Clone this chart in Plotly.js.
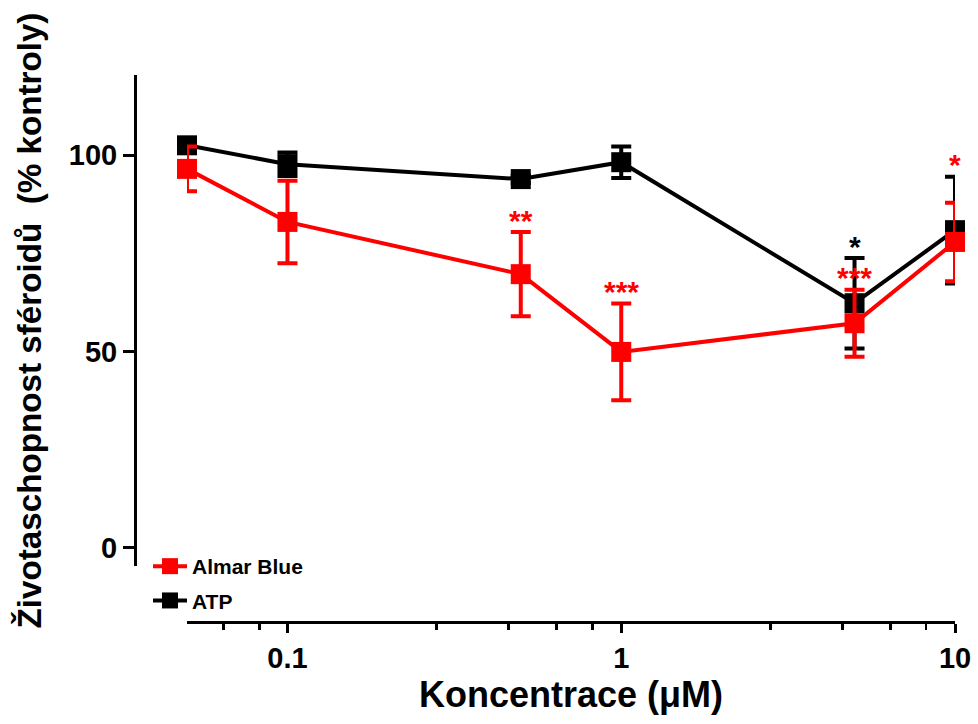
<!DOCTYPE html>
<html><head><meta charset="utf-8">
<script src="https://cdn.plot.ly/plotly-3.0.1.min.js"></script>
<style>html,body{margin:0;padding:0;background:#fff}</style>
</head><body><div id="chart" style="width:978px;height:724px"></div>
<script>
// ---- data ----
const concentrations = [0.05, 0.1, 0.5, 1, 5, 10];
const almarBlue    = [96.5, 83.0, 69.7, 49.9, 57.2, 77.9];
const almarBlueErr = [5.7, 10.5, 10.7, 12.3, 8.5, 10.0];
const atp          = [102.5, 97.7, 93.9, 98.2, 62.3, 80.9];
const atpErr       = [1.3, 3.0, 1.0, 4.0, 11.5, 13.6];
const almarSig = ['', '', '**', '***', '***', '*'];
const atpSig   = ['', '', '', '', '*', ''];
const xTickVals = [0.1, 1, 10];
const xTickText = ['0.1', '1', '10'];
const xMinorVals = [0.0643, 0.0824, 0.28, 0.46, 0.64, 0.82, 2.8, 4.6, 6.4, 8.2];
const yTickVals = [0, 50, 100];
const yTickText = ['0', '50', '100'];

const RED = '#ff0000', BLACK = '#000000';
const FONT = 'Liberation Sans, Arial, sans-serif';

function series(name, y, err, color, rank) {
  return {
    type: 'scatter', mode: 'lines+markers', name: name, legendgroup: name, legendrank: rank,
    x: concentrations, y: y,
    error_y: {type: 'data', array: err, visible: true, color: color, thickness: 4, width: 10},
    line: {color: color, width: 4},
    marker: {symbol: 'square', size: 20, color: color},
    cliponaxis: false
  };
}
const traces = [
  series('ATP', atp, atpErr, BLACK, 2),
  series('Almar Blue', almarBlue, almarBlueErr, RED, 1)
];

// significance annotations, placed above error caps
// (above the other series' cap when that bar overlaps and carries no mark)
const annotations = [];
function addSig(sig, own, ownErr, other, otherErr, otherSig, color) {
  sig.forEach((s, i) => {
    if (!s) return;
    let top = own[i] + ownErr[i];
    const oLo = other[i] - otherErr[i], oHi = other[i] + otherErr[i];
    if (!otherSig[i] && top >= oLo && top <= oHi) top = oHi;
    annotations.push({
      xref: 'x', yref: 'y', x: Math.log10(concentrations[i]), y: top,
      text: s, showarrow: false, yanchor: 'middle', xanchor: 'center', yshift: 12,
      font: {family: FONT, size: 30, color: color, weight: 'bold'}
    });
  });
}
addSig(almarSig, almarBlue, almarBlueErr, atp, atpErr, atpSig, RED);
addSig(atpSig, atp, atpErr, almarBlue, almarBlueErr, almarSig, BLACK);

const W = 978, H = 724;
const layout = {
  width: W, height: H,
  margin: {l: 0, r: 0, t: 0, b: 0},
  paper_bgcolor: '#ffffff', plot_bgcolor: '#ffffff',
  font: {family: FONT, color: BLACK},
  showlegend: true,
  legend: {
    x: 148 / W, y: (H - 546) / H, xanchor: 'left', yanchor: 'top',
    traceorder: 'grouped', tracegroupgap: 4, bgcolor: 'rgba(0,0,0,0)',
    font: {family: FONT, size: 21, color: BLACK, weight: 'bold'},
    itemwidth: 34
  },
  xaxis: {
    type: 'log', range: [Math.log10(0.05), 1],
    domain: [187 / W, 955 / W], anchor: 'free', position: (H - 622) / H,
    showline: true, linewidth: 3, linecolor: BLACK, mirror: false,
    ticks: 'outside', ticklen: 9, tickwidth: 3, tickcolor: BLACK,
    tickmode: 'array', tickvals: xTickVals, ticktext: xTickText,
    tickfont: {family: FONT, size: 29, color: BLACK, weight: 'bold'},
    minor: {tickmode: 'array', tickvals: xMinorVals, ticks: 'outside', ticklen: 6, tickwidth: 2.5, tickcolor: BLACK, showgrid: false},
    showgrid: false, zeroline: false, automargin: false,
    title: {text: 'Koncentrace (μM)', font: {family: FONT, size: 36, color: BLACK, weight: 'bold'}, standoff: 6}
  },
  yaxis: {
    range: [-4.6, 120.4],
    domain: [(H - 566) / H, (H - 75) / H], anchor: 'free', position: 135 / W,
    showline: true, linewidth: 3, linecolor: BLACK,
    ticks: 'outside', ticklen: 11, tickwidth: 3, tickcolor: BLACK,
    tickmode: 'array', tickvals: yTickVals, ticktext: yTickText,
    tickfont: {family: FONT, size: 29, color: BLACK, weight: 'bold'},
    showgrid: false, zeroline: false, automargin: false,
    title: {text: '\u00a0\u00a0\u00a0\u00a0\u00a0Životaschopnost sféroidů\u00a0 (% kontroly)', font: {family: FONT, size: 33.2, color: BLACK, weight: 'bold'}, standoff: 16}
  },
  annotations: annotations
};

Plotly.newPlot('chart', traces, layout, {displayModeBar: false, staticPlot: true});
</script></body></html>
